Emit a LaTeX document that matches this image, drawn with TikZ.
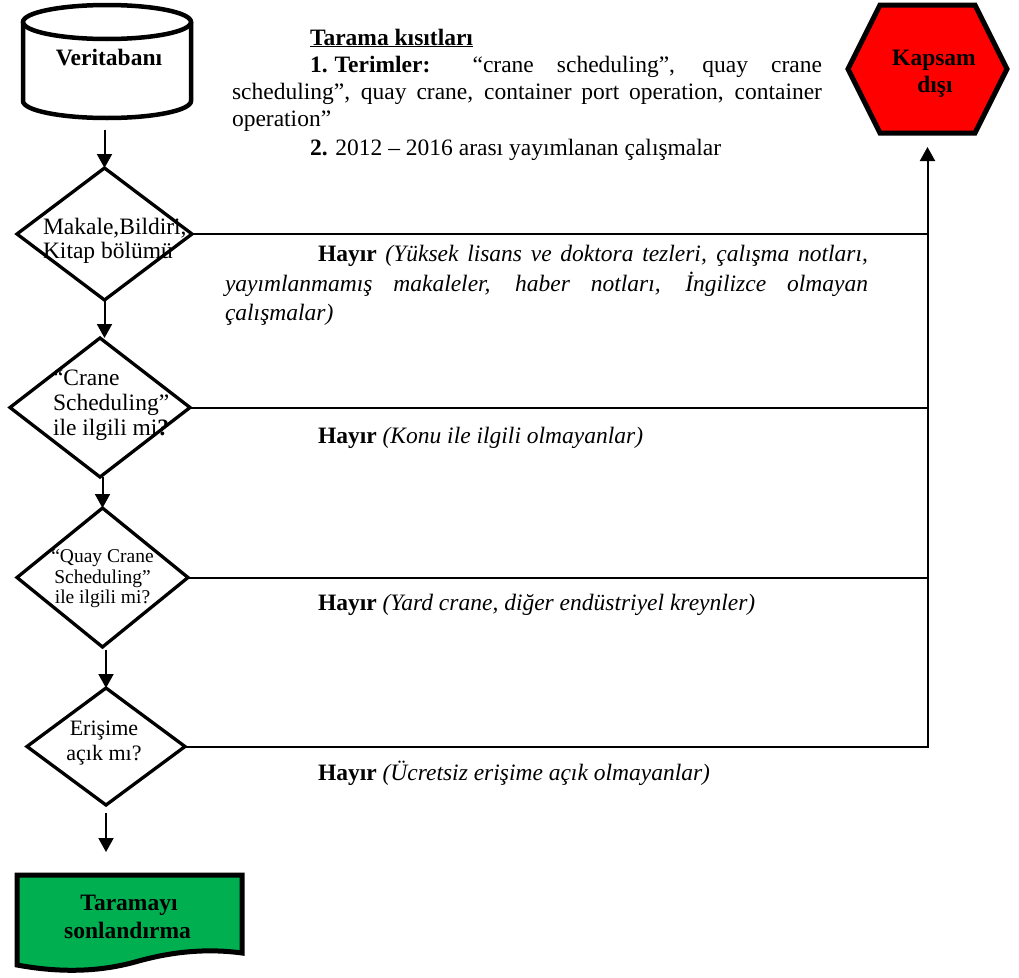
\documentclass[tikz,border=0pt]{standalone}
\usepackage{fontspec}
\setmainfont{Liberation Serif}
\usetikzlibrary{shapes.geometric,arrows.meta}
\definecolor{kred}{RGB}{255,0,0}
\definecolor{kgreen}{RGB}{0,176,80}
\begin{document}
\begin{tikzpicture}[x=1pt,y=-1pt,
  every node/.style={inner sep=0pt, outer sep=0pt},
  fnt/.style={font=\fontsize{23.5}{27}\selectfont},
  txt/.style={fnt, anchor=base west},
  ctxt/.style={fnt, anchor=base},
  btxt/.style={font=\fontsize{23.5}{27}\selectfont\bfseries, anchor=base},
  dia/.style={draw, diamond, line width=3.3pt, fill=white},
  conn/.style={line width=2pt},
  arr/.style={line width=2pt, -{Triangle[width=15pt,length=14pt]}},
  ]
\fill[white] (0,0) rectangle (1019,977);
\useasboundingbox (0,0) rectangle (1019,977);

% database cylinder
\node[minimum width=168pt, minimum height=113pt] (db) at (107,61.5) {};
\draw[line width=4.5pt, fill=white] (23,22) -- (23,101) .. controls (23,110.4) and (60.6,118) .. (107,118) .. controls (153.4,118) and (191,110.4) .. (191,101) -- (191,22);
\draw[line width=4.5pt] (107,22) ellipse [x radius=84pt, y radius=17pt];
\node[btxt] (dbt) at (109,65) {Veritabanı};

% out of scope hexagon
\node[minimum width=159pt, minimum height=128pt] (kap) at (927.5,69) {};
\draw[line width=5pt, fill=kred] (kap.west) -- ([xshift=32pt]kap.north west) -- ([xshift=-32pt]kap.north east) -- (kap.east) -- ([xshift=-32pt]kap.south east) -- ([xshift=32pt]kap.south west) -- cycle;
\node[btxt] (kapa) at (934,65) {Kapsam};
\node[btxt] (kapb) at (935,92) {dışı};

% end document shape
\node[minimum width=225pt, minimum height=80pt] (endn) at (129.5,915) {};
\draw[line width=5pt, fill=kgreen] (endn.north west) -- (endn.north east) -- (242,953) .. controls (205,948) and (170,952) .. (135,962) .. controls (95,973) and (55,972) .. (17,965) -- cycle;
\node[btxt] (enda) at (129,910) {Taramayı};
\node[btxt] (endb) at (127.5,938) {sonlandırma};

% decisions
\node[dia, minimum width=175pt, minimum height=132pt] (d1) at (104.5,234) {};
\node[dia, minimum width=180pt, minimum height=139pt] (d2) at (100,407.5) {};
\node[dia, minimum width=171pt, minimum height=139pt] (d3) at (102.5,577.5) {};
\node[dia, minimum width=158pt, minimum height=117pt] (d4) at (106,746.5) {};

\node[txt] (d1a) at (43,234) {Makale,Bildiri,};
\node[txt] (d1b) at (43,258) {Kitap bölümü};
\node[txt] (d2a) at (53,385) {“Crane};
\node[txt] (d2b) at (53,410) {Scheduling”};
\node[txt] (d2c) at (53,435) {ile ilgili mi\textbf{?}};
\node[anchor=base, font=\fontsize{19.5}{22}\selectfont] (d3a) at (102.5,562) {“Quay Crane};
\node[anchor=base, font=\fontsize{19.5}{22}\selectfont] (d3b) at (102.5,583) {Scheduling”};
\node[anchor=base, font=\fontsize{19.5}{22}\selectfont] (d3c) at (102.5,603) {ile ilgili mi?};
\node[anchor=base, font=\fontsize{22}{25}\selectfont] (d4a) at (104,735) {Erişime};
\node[anchor=base, font=\fontsize{22}{25}\selectfont] (d4b) at (104,760) {açık mı?};

% vertical flow
\draw[arr, shorten <=12pt] (db.south -| d1.north) -- (d1.north);
\draw[arr] (d1.south) -- (d1.south |- d2.north);
\draw[arr] (d2.south -| d3.north) -- (d3.north);
\draw[arr, shorten <=3pt] (d3.south -| d4.north) -- (d4.north);
\draw[arr, shorten <=8pt, shorten >=23pt] (d4.south) -- (d4.south |- endn.north);

% "no" branches
\draw[conn] (d1.east) -- (d1.east -| kap.south);
\draw[conn] (d2.east) -- (d2.east -| kap.south);
\draw[conn] (d3.east) -- (d3.east -| kap.south);
\draw[arr, shorten >=14pt] (d4.east) -- (d4.east -| kap.south) -- (kap.south);

% constraints text
\node[txt, font=\fontsize{23.5}{27}\selectfont\bfseries] (tk) at (310,45) {\underline{Tarama kısıtları}};
\node[txt] (t1) at (310,72) {\makebox[512pt][s]{\textbf{1.\hspace{0.3em}Terimler:} “crane scheduling”, quay crane}};
\node[txt] (t2) at (232,99) {\makebox[590pt][s]{scheduling”, quay crane, container port operation, container}};
\node[txt] (t3) at (232,126) {operation”};
\node[txt] (t4) at (310,155) {\textbf{2.} 2012 – 2016 arası yayımlanan çalışmalar};

% no labels
\node[txt] (h1a) at (318,261) {\makebox[550pt][s]{\textbf{Hayır} \textit{(Yüksek lisans ve doktora tezleri, çalışma notları,}}};
\node[txt] (h1b) at (225,291) {\makebox[643pt][s]{\itshape yayımlanmamış makaleler, haber notları, İngilizce olmayan}};
\node[txt] (h1c) at (225,320) {\itshape çalışmalar)};
\node[txt] (h2) at (318,443) {\textbf{Hayır} \textit{(Konu ile ilgili olmayanlar)}};
\node[txt] (h3) at (318,610) {\textbf{Hayır} \textit{(Yard crane, diğer endüstriyel kreynler)}};
\node[txt] (h4) at (318,780) {\textbf{Hayır} \textit{(Ücretsiz erişime açık olmayanlar)}};
\end{tikzpicture}
\end{document}
